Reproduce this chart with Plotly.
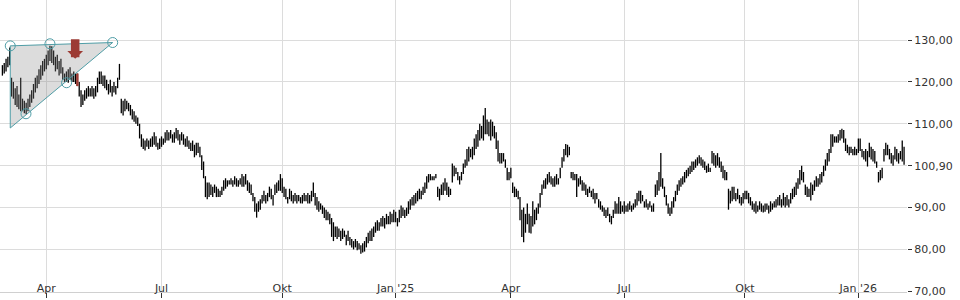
import pandas as pd
import plotly.graph_objects as go

# ---------------- data ----------------
holidays = ["2024-03-29", "2024-04-01", "2024-05-01", "2024-12-24", "2024-12-25",
            "2024-12-26", "2024-12-31", "2025-01-01", "2025-04-18", "2025-04-21",
            "2025-05-01", "2025-12-24", "2025-12-25", "2025-12-26", "2025-12-31",
            "2026-01-01"]
days = pd.bdate_range("2024-02-26", "2026-02-06")
days = days[~days.isin(pd.to_datetime(holidays))]

high = [
    124, 124.5, 125.5, 126, 128.2, 121, 120, 118.5, 119, 117,
    121, 116, 115.5, 115, 116, 117, 118, 119.5, 121, 121.5,
    123, 124, 125, 125.5, 126.5, 127.5, 128.6, 128.5, 127.5, 126,
    126.5, 125, 125.5, 123.5, 122, 122.5, 123, 123.5, 122, 122.5,
    122, 122, 120, 118, 117, 118, 118.5, 119, 118.5, 119,
    118.5, 119, 121, 122.5, 122.5, 121.5, 121.5, 120.5, 119.5, 120.5,
    119, 120, 119, 121, 124.3, 116, 115.5, 116, 115.5, 115,
    114.5, 113.5, 113, 112, 111.5, 110, 107.5, 106.5, 106, 106.5,
    106, 106.5, 107, 108, 107, 105.5, 106.5, 107, 106.5, 108,
    108.5, 108, 108.5, 107.5, 108, 109, 108.5, 107.5, 108, 107.5,
    106.5, 107, 106, 105.5, 106, 105, 105.5, 105.5, 104.5, 102.5,
    101, 97.5, 96, 96, 95.5, 95, 95.5, 95, 94.5, 94,
    95, 96.5, 97, 96.5, 96.5, 97, 96.5, 97.5, 97, 96.5,
    97, 98, 97.5, 98, 96.5, 96, 95.5, 93.5, 92.5, 91,
    91.5, 92, 93, 94, 93, 93.5, 95, 94.5, 93, 95.5,
    96, 96.5, 98, 97, 95, 94.5, 92.5, 94.5, 94, 93,
    93.5, 93, 93, 92.5, 93, 93.5, 93, 93.5, 93, 94,
    96, 93.5, 92.5, 91.5, 91, 90.5, 90, 89.5, 89, 88.5,
    87.5, 86.5, 85.5, 85.5, 85, 84.5, 85, 84.5, 83.5, 84.5,
    83, 82.5, 82, 82.5, 82, 81.5, 81, 81.5, 82, 83,
    84, 84.5, 85, 85.5, 86.5, 87, 86.5, 87.5, 88, 87.5,
    88.5, 88, 89, 88.5, 89.5, 89, 87.5, 89.5, 90.5, 90,
    89.5, 90, 91.5, 92, 92.5, 93, 93.5, 94, 94.5, 94,
    95, 96, 97.5, 98, 98, 97.5, 97.5, 98, 95, 94.5,
    95.5, 96, 97, 96, 95, 94.5, 100.5, 100, 99.5, 98.5,
    97.5, 98.5, 100.5, 101.5, 104, 104.5, 104, 104.5, 106.5, 107.5,
    108.5, 110, 109.5, 112, 113.8, 111, 110.5, 111, 110.5, 109.5,
    108, 106, 103, 103, 103, 101.5, 99.5, 98.5, 99.5, 96,
    95, 94.5, 94, 92.5, 89.5, 90, 88.5, 91, 88.5, 88,
    91.5, 89.5, 90, 91, 93.5, 95.5, 96.5, 97, 98, 98.5,
    97.5, 97, 97.5, 98, 97, 99.5, 102, 104, 105.2, 105,
    104.5, 98.5, 98.5, 98, 98, 97, 97.5, 96.5, 96, 95.5,
    94.5, 95, 94, 94.5, 93.5, 93.5, 92, 91.5, 90.5, 90,
    89.5, 90, 88.5, 88, 89.5, 91.5, 91, 92.5, 91.5, 90.5,
    91.5, 90.5, 91, 91.5, 90.5, 91, 92, 93.5, 94, 94,
    93, 91.5, 92, 91, 91.5, 90.5, 91, 95.5, 96.5, 98.5,
    103, 97, 95, 93, 91, 90, 91.5, 92.5, 94, 95.5,
    96.5, 97, 97.5, 98.5, 99, 99.5, 100, 101, 101, 101.5,
    102, 102.5, 102, 101.5, 101, 100, 100.5, 99.5, 103.5, 103,
    102.5, 103, 102, 101, 100, 99, 98.5, 94.5, 94, 95,
    95, 93.5, 94.5, 93, 92.5, 93.5, 94, 94, 93.5, 92.5,
    91.5, 91, 91.5, 90.5, 91.5, 91, 90.5, 91, 91, 90.5,
    91.5, 91, 91.5, 92, 92.5, 93, 92, 93.5, 92.5, 93,
    92, 93.5, 94.5, 95, 96, 97, 99, 100, 98.5, 95.5,
    95, 94.5, 96, 95.5, 96.5, 97.5, 97, 98, 98.5, 100,
    101.5, 103, 104, 107.5, 107.5, 107, 107, 107.5, 108.5, 108.8,
    108.5, 106.5, 105, 104.5, 104.5, 104, 104.5, 104, 106.5, 106.5,
    104, 103.5, 104, 103.5, 105.5, 104.5, 104, 103.5, 101, 98.5,
    99, 99.5, 104, 105.5, 105, 104, 103, 102.5, 104.5, 104,
    103, 103.5, 106, 104.5,
]

low = [
    121.5, 122, 122.5, 123.5, 124, 116.5, 116, 114.5, 114, 113.5,
    113, 113, 112.5, 112.3, 113, 114, 115, 116, 117.5, 118.5,
    119.5, 120.5, 121.5, 122.5, 123, 124, 125, 124.5, 124, 122.5,
    123, 121.5, 122, 120.5, 120, 120, 119.8, 120.5, 120, 120,
    119.5, 119, 116.5, 114, 114.5, 115.5, 116, 116.5, 116.5, 116.5,
    116, 116.5, 117.5, 119.5, 119.5, 119, 118.5, 118, 117, 117.5,
    116.5, 117.5, 117, 118.5, 120.5, 112.5, 112, 113, 113.5, 113,
    112, 111, 110.5, 110, 109.5, 106.5, 104.5, 104, 103.6, 104.5,
    104, 104.5, 104.5, 105, 104.5, 103.8, 104, 104.5, 105, 105.5,
    106, 106, 106.5, 105.5, 105.5, 106.5, 106, 105, 106, 105,
    104.5, 104.5, 104, 103.5, 103.5, 102, 102.5, 103, 102, 99,
    97, 92.5, 92, 92.5, 93, 92.5, 93.5, 92.5, 92.5, 92.5,
    93, 94, 94.5, 95, 95.5, 95.5, 95, 95.5, 95, 95,
    95.5, 95, 95, 95.5, 94, 93.5, 93, 91.5, 89, 87.6,
    89, 89.5, 91, 91.5, 91, 91.5, 92.5, 92, 90.5, 93,
    93.5, 94, 94, 93.5, 92.5, 92, 91, 92, 91.5, 91,
    91.5, 91, 91.5, 91, 91, 91.5, 91.5, 91, 91, 91.5,
    92.5, 90.5, 89.5, 89, 89.5, 88.5, 87.5, 87, 87, 86,
    83, 82, 83, 82.5, 83, 82, 82.5, 83, 81, 82,
    81, 80.5, 80, 80.5, 79.8, 80, 79, 79.3, 79.5, 80.5,
    81.5, 82, 82, 83, 84, 84.5, 84.5, 85.5, 85.5, 85,
    86, 86, 86, 86.5, 86.5, 86.5, 85.5, 86.5, 87.5, 88,
    87.5, 88, 88.5, 89.5, 90.5, 90.5, 91, 91.5, 92, 92,
    93, 93.5, 94.5, 96, 96.5, 96.5, 96.5, 97, 92.5, 91.7,
    93, 93, 94, 93, 92.5, 93, 96, 97.5, 98, 96.5,
    95.5, 96.5, 98, 99.5, 100, 101, 102, 101.5, 102.5, 104,
    104.5, 106, 106.5, 106, 107.5, 107.5, 107, 106, 107, 106.5,
    104, 101, 100.5, 100.5, 101, 99.5, 96.5, 96.5, 97, 93.5,
    92.5, 92.5, 92, 87, 83, 81.7, 84, 86, 84, 83.8,
    85.5, 86, 87, 88.5, 90, 93, 94.5, 94.5, 95.5, 96,
    95.5, 95, 95, 95.5, 95.5, 97, 99.5, 101, 102.5, 102,
    102.5, 97, 96.5, 96.5, 92.5, 95, 95.5, 94, 94, 93,
    92.5, 93.5, 92.5, 92, 91, 92, 90, 89.5, 89, 88,
    87.5, 88, 86.5, 86, 87.5, 88.5, 88.5, 88.5, 88.5, 89,
    88.5, 89, 89, 89.5, 89, 89.5, 90, 90.5, 91.5, 91,
    91.5, 90, 90, 89.5, 90, 89, 89, 92.5, 93, 94,
    95, 94.5, 92.5, 90.5, 88.5, 88, 88.5, 90, 91.5, 93,
    94, 95, 95.5, 96, 97, 97.5, 98, 98.5, 99, 99.5,
    100, 100.5, 100, 99.5, 99, 98.3, 98.5, 98.5, 100.5, 100,
    99.5, 100, 99.5, 98.5, 97, 96.5, 96.5, 89.5, 91, 91.5,
    92, 91.5, 92, 91, 90.5, 91, 92, 92, 91, 90.5,
    89.5, 89, 88.6, 89, 89.5, 89, 88.8, 89, 89.5, 88.6,
    89, 89.5, 90, 90, 90.5, 90.5, 90, 90.5, 90, 90.5,
    90, 91, 92, 92.5, 93, 94.5, 95.5, 96.5, 96, 93,
    92.5, 92.5, 91.7, 93, 94, 95, 95, 95.5, 96, 97.5,
    98.8, 100, 101, 103, 104.5, 105.5, 105.5, 105.5, 106, 106.5,
    105.5, 103.5, 103, 102.5, 103, 102.5, 102.5, 102.5, 103, 103.5,
    102, 101.5, 101, 99.8, 102, 101.5, 101, 100.5, 99.5, 96,
    96.5, 97, 101, 102.5, 102.5, 101.5, 100.5, 100, 101.5, 101,
    100.5, 101.5, 101, 100.2,
]

last_close = 100.90
signal_bar = 41                      # breakout bar (drawn in red)
signal_arrow_idx = 39.8              # position of the red down arrow
signal_arrow_price = 125.5           # tip of the red arrow

# triangle pattern (bar index, price)
pattern_idx = [4.3, 60.3, 4.3, 4.3]
pattern_price = [128.6, 129.4, 109.0, 128.6]
touch_idx = [4.3, 12.9, 26.0, 35.1, 60.3]
touch_price = [128.6, 112.4, 129.1, 119.8, 129.4]

y_ticks = [70, 80, 90, 100, 110, 120, 130]
tick_months = ["2024-04-01", "2024-07-01", "2024-10-01", "2025-01-01",
               "2025-04-01", "2025-07-01", "2025-10-01", "2026-01-01"]
tick_labels = ["Apr", "Jul", "Okt", "Jan '25", "Apr", "Jul", "Okt", "Jan '26"]

# ---------------- figure ----------------
n = min(len(high), len(low), len(days))
idx = list(range(n))
x_tickvals = [int((days < pd.Timestamp(m)).sum()) for m in tick_months]

def fmt(v):
    return f"{v:.2f}".replace(".", ",")

y_ticktext = [fmt(last_close) if v == 100 else fmt(v) for v in y_ticks]

teal = "#4f9da6"
red = "#9c3b34"

fig = go.Figure()
fig.add_trace(go.Scatter(x=pattern_idx, y=pattern_price, mode="lines",
                         fill="toself", fillcolor="rgba(140,140,140,0.30)",
                         line=dict(color=teal, width=1), hoverinfo="skip"))
fig.add_trace(go.Ohlc(x=idx, open=low[:n], high=high[:n], low=low[:n], close=high[:n],
                      increasing=dict(line=dict(color="black", width=1.3)),
                      decreasing=dict(line=dict(color="black", width=1.3)),
                      tickwidth=0, hoverinfo="skip"))
fig.add_trace(go.Ohlc(x=[signal_bar], open=[low[signal_bar]], high=[high[signal_bar]],
                      low=[low[signal_bar]], close=[high[signal_bar]],
                      increasing=dict(line=dict(color=red, width=2.5)),
                      decreasing=dict(line=dict(color=red, width=2.5)),
                      tickwidth=0, hoverinfo="skip"))
fig.add_trace(go.Scatter(x=touch_idx, y=touch_price, mode="markers",
                         marker=dict(symbol="circle-open", size=10,
                                     color=teal, line=dict(width=1, color=teal)),
                         hoverinfo="skip"))

fig.add_annotation(x=signal_arrow_idx, y=signal_arrow_price, xref="x", yref="y",
                   ax=0, ay=-21, showarrow=True, arrowhead=1, arrowsize=0.31,
                   arrowwidth=8.5, arrowcolor=red, standoff=0, text="")

fig.update_layout(
    width=960, height=300,
    margin=dict(l=0, r=53, t=0, b=8),
    plot_bgcolor="white", paper_bgcolor="white",
    showlegend=False,
    font=dict(family="DejaVu Sans", size=11, color="#333333"),
)
fig.update_xaxes(range=[-1.31, 494.6], tickmode="array", tickvals=x_tickvals,
                 ticktext=tick_labels, showgrid=True, gridcolor="#dcdcdc", gridwidth=1,
                 showline=True, linecolor="#d0d0d0", linewidth=1,
                 ticks="outside", ticklen=5, tickcolor="#333333",
                 ticklabelposition="outside", ticklabelstandoff=-19,
                 ticklabeloverflow="allow", zeroline=False,
                 rangeslider=dict(visible=False), fixedrange=True)
fig.update_yaxes(side="right", range=[69.85, 139.55], tickmode="array",
                 tickvals=y_ticks, ticktext=y_ticktext, showgrid=True,
                 gridcolor="#dcdcdc", gridwidth=1, ticks="outside", ticklen=4,
                 tickcolor="#333333", showline=False, zeroline=False,
                 ticklabeloverflow="allow", fixedrange=True)

fig.write_html("out.html", config={"displayModeBar": False})
